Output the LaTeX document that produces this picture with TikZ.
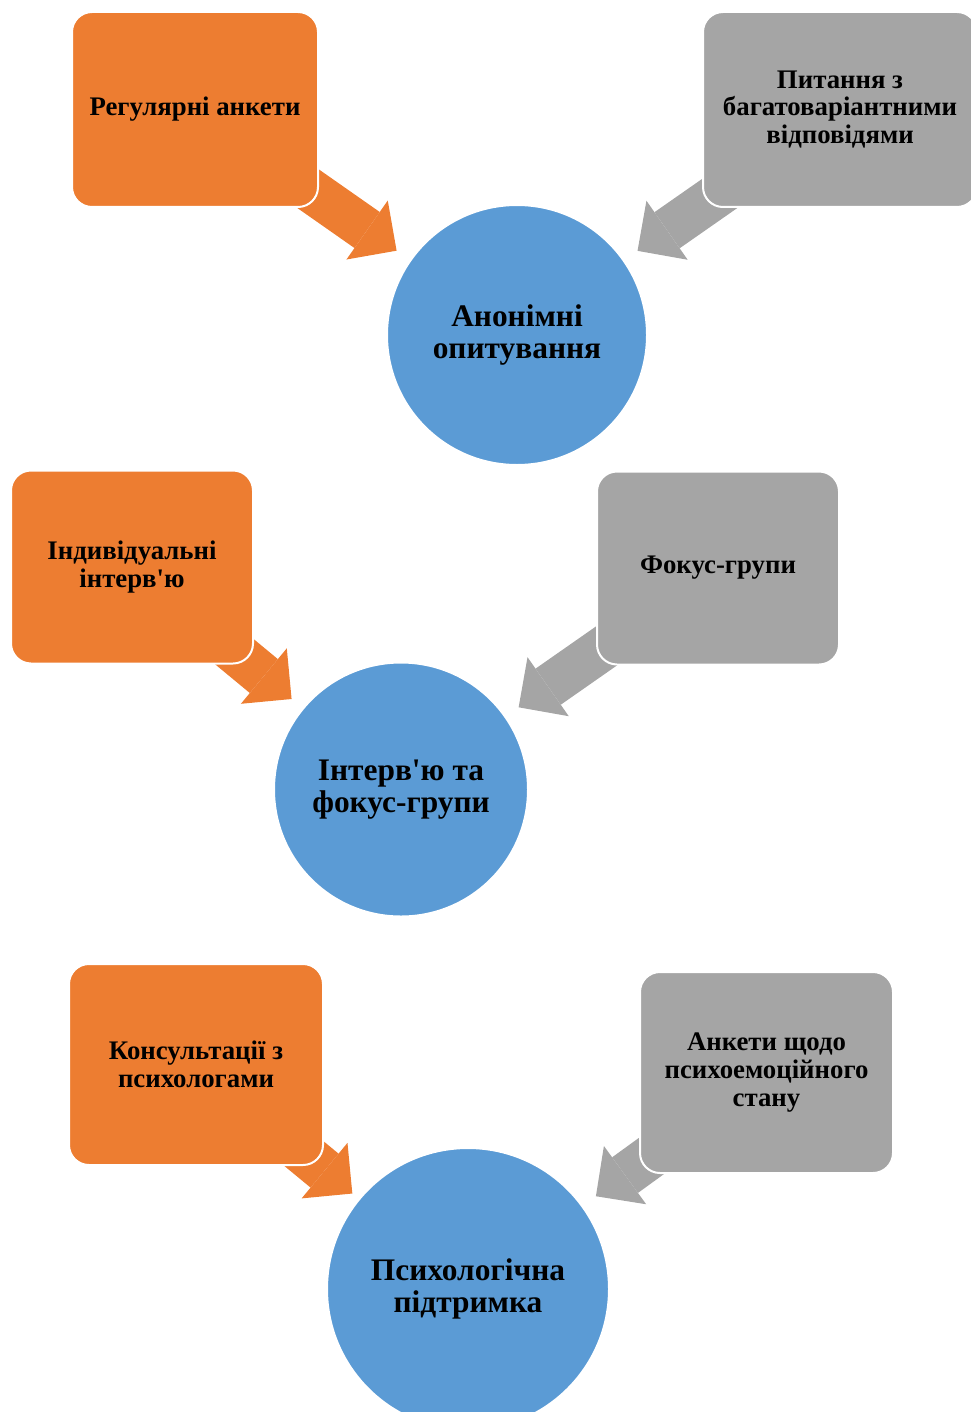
\documentclass[tikz,border=0pt]{standalone}
\usepackage{fontspec}
\setmainfont{Liberation Serif}[Ligatures=TeXOff]
\usetikzlibrary{arrows.meta,backgrounds}

\definecolor{orangeA}{HTML}{ED7D31}
\definecolor{grayA}{HTML}{A5A5A5}
\definecolor{blueA}{HTML}{5B9BD5}

\tikzset{
  boxbase/.style={rectangle, rounded corners=10pt, draw=white, line width=1pt,
    align=center, inner sep=2pt, font=\fontsize{13.4}{13.8}\selectfont\bfseries},
  boxO/.style={boxbase, fill=orangeA},
  boxG/.style={boxbase, fill=grayA},
  hub/.style={circle, fill=blueA, draw=white, line width=1pt, inner sep=0pt,
    align=center, font=\fontsize{15.7}{16.2}\selectfont\bfseries},
  feed/.style={line width=22pt, -{Triangle[length=18pt, width=36pt, line width=0pt]}},
  feedO/.style={feed, draw=orangeA},
  feedG/.style={feed, draw=grayA},
}

\begin{document}
\begin{tikzpicture}[x=0.5pt, y=-0.5pt]

% ----------------- Page frame (pixel grid of the reference) -----------------
\useasboundingbox (0,0) rectangle (970,1412);

% ----------------- Row 1 -----------------
\node[boxO, minimum width=123pt, minimum height=97.5pt] (reg) at (195,109.5)
  {Регулярні анкети};
\node[boxG, minimum width=137pt, minimum height=97.5pt] (mcq) at (840,109.5)
  {Питання з\\багатоваріантними\\відповідями};
\node[hub, minimum size=130pt] (anon) at (517,335) {Анонімні\\опитування};

% ----------------- Row 2 -----------------
\node[boxO, minimum width=121pt, minimum height=96.5pt] (ind) at (132,567)
  {Індивідуальні\\інтерв'ю};
\node[boxG, minimum width=121pt, minimum height=96.5pt] (foc) at (718,568)
  {Фокус-групи};
\node[hub, minimum size=127pt] (intv) at (401,789.5) {Інтерв'ю та\\фокус-групи};

% ----------------- Row 3 -----------------
\node[boxO, minimum width=127pt, minimum height=100.5pt] (cons) at (196,1064.5)
  {Консультації з\\психологами};
\node[boxG, minimum width=126.5pt, minimum height=100.5pt] (ank) at (766.5,1072.5)
  {Анкети щодо\\психоемоційного\\стану};
\node[hub, minimum size=141pt] (psy) at (468,1289) {Психологічна\\підтримка};

% ----------------- Block arrows (behind the boxes) -----------------
\begin{scope}[on background layer]
  \draw[feedO, shorten >=8pt]    (reg.center)  -- (anon);
  \draw[feedG, shorten >=8pt]    (mcq.center)  -- (anon);
  \draw[feedO, shorten >=7pt]    (ind.center)  -- (intv);
  \draw[feedG, shorten >=7.75pt] (foc.center)  -- (intv);
  \draw[feedO, shorten >=4pt]    (cons.center) -- (psy);
  \draw[feedG, shorten >=8pt]    (ank.center)  -- (psy);
\end{scope}

\end{tikzpicture}
\end{document}
